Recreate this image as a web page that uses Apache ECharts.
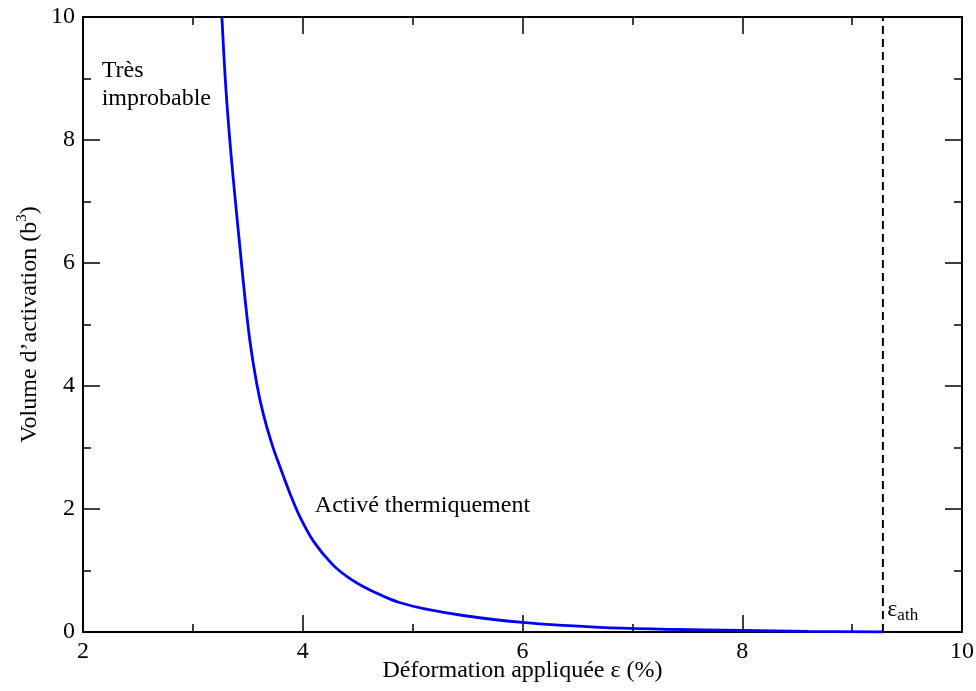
<!DOCTYPE html>
<html>
<head>
<meta charset="utf-8">
<script src="https://cdn.jsdelivr.net/npm/echarts@6/dist/echarts.min.js"></script>
<style>
  html, body { margin: 0; padding: 0; background: #fff; }
  #chart { width: 976px; height: 691px; }
</style>
</head>
<body>
<div id="chart"></div>
<script>
// applied strain (%) and activation volume (b^3)
const strainPct = [3.264, 3.30, 3.343, 3.39, 3.43, 3.47, 3.52, 3.58, 3.64, 3.72, 3.80, 3.88, 3.97,
                   4.10, 4.27, 4.42, 4.58, 4.75, 4.88, 5.10, 5.49, 6.00, 6.70, 7.30, 8.00, 8.60, 9.28];
const activationVol = [10.0, 8.85, 7.85, 6.95, 6.22, 5.5, 4.72, 4.05, 3.55, 3.05, 2.65, 2.27, 1.89,
                       1.47, 1.10, 0.88, 0.71, 0.57, 0.48, 0.38, 0.26, 0.155, 0.075, 0.045, 0.024, 0.010, 0.0];
const athStrain = 9.28;            // athermal limit
const athLine = [[athStrain, 0], [athStrain, 10]];

// annotations, placed in data coords
const notes = [
  { text: 'Très\nimprobable', at: [2.17, 8.90] },
  { text: 'Activé thermiquement', at: [4.11, 2.06] },
  { text: 'ε{sub|ath}', at: [9.32, 0.36] }
];

const serif = '"Liberation Serif", "DejaVu Serif", serif';
const myChart = echarts.init(document.getElementById('chart'));

const tickStyle = { show: true, inside: true, length: 17, lineStyle: { color: '#000', width: 1.5 } };
const minorStyle = { show: true, splitNumber: 2, length: 8, lineStyle: { color: '#000', width: 1.5 } };
const lineStyle = { show: true, onZero: false, lineStyle: { color: '#000', width: 2 } };

option = {
  animation: false,
  grid: { left: 83, right: 14, top: 17, bottom: 59, outerBoundsMode: 'none' },
  xAxis: [
    {
      type: 'value', min: 2, max: 10, interval: 2, position: 'bottom',
      name: 'Déformation appliquée ε (%)', nameLocation: 'middle', nameGap: 27, nameMoveOverlap: false,
      nameTextStyle: { fontFamily: serif, fontSize: 24, color: '#000' },
      axisLine: lineStyle, axisTick: tickStyle, minorTick: minorStyle,
      splitLine: { show: false },
      axisLabel: { fontFamily: serif, fontSize: 24, color: '#000', margin: 8 }
    },
    {
      type: 'value', min: 2, max: 10, interval: 2, position: 'top',
      axisLine: lineStyle, axisTick: tickStyle, minorTick: minorStyle,
      splitLine: { show: false }, axisLabel: { show: false }
    }
  ],
  yAxis: [
    {
      type: 'value', min: 0, max: 10, interval: 2, position: 'left',
      name: 'Volume d’activation (b{sup|3})', nameLocation: 'middle', nameGap: 38, nameMoveOverlap: false,
      nameTextStyle: {
        fontFamily: serif, fontSize: 24, color: '#000', lineHeight: 30,
        rich: { sup: { fontFamily: serif, fontSize: 15, color: '#000', verticalAlign: 'top', lineHeight: 30, padding: [0, 0, 12, 0] } }
      },
      axisLine: lineStyle, axisTick: tickStyle, minorTick: minorStyle,
      splitLine: { show: false },
      axisLabel: { fontFamily: serif, fontSize: 24, color: '#000', margin: 8 }
    },
    {
      type: 'value', min: 0, max: 10, interval: 2, position: 'right',
      axisLine: lineStyle, axisTick: tickStyle, minorTick: minorStyle,
      splitLine: { show: false }, axisLabel: { show: false }
    }
  ],
  series: [
    {
      type: 'line',
      data: strainPct.map((e, i) => [e, activationVol[i]]),
      showSymbol: false, smooth: 0.35, clip: true,
      lineStyle: { color: '#0000ff', width: 2.8 }
    },
    {
      type: 'line',
      data: athLine,
      showSymbol: false,
      lineStyle: { color: '#000', width: 2, type: [8, 5] }
    }
  ]
};
myChart.setOption(option);

// text annotations, converted from data coords
myChart.setOption({
  graphic: notes.map(n => {
    const p = myChart.convertToPixel({ gridIndex: 0 }, n.at);
    return {
      type: 'text', x: p[0], y: p[1],
      style: {
        text: n.text, fontFamily: serif, fontSize: 24, fill: '#000', lineHeight: 28,
        textAlign: 'left', textVerticalAlign: 'middle',
        rich: { sub: { fontFamily: serif, fontSize: 17, fill: '#000', padding: [12, 0, 0, 0] } }
      }
    };
  })
});
</script>
</body>
</html>
